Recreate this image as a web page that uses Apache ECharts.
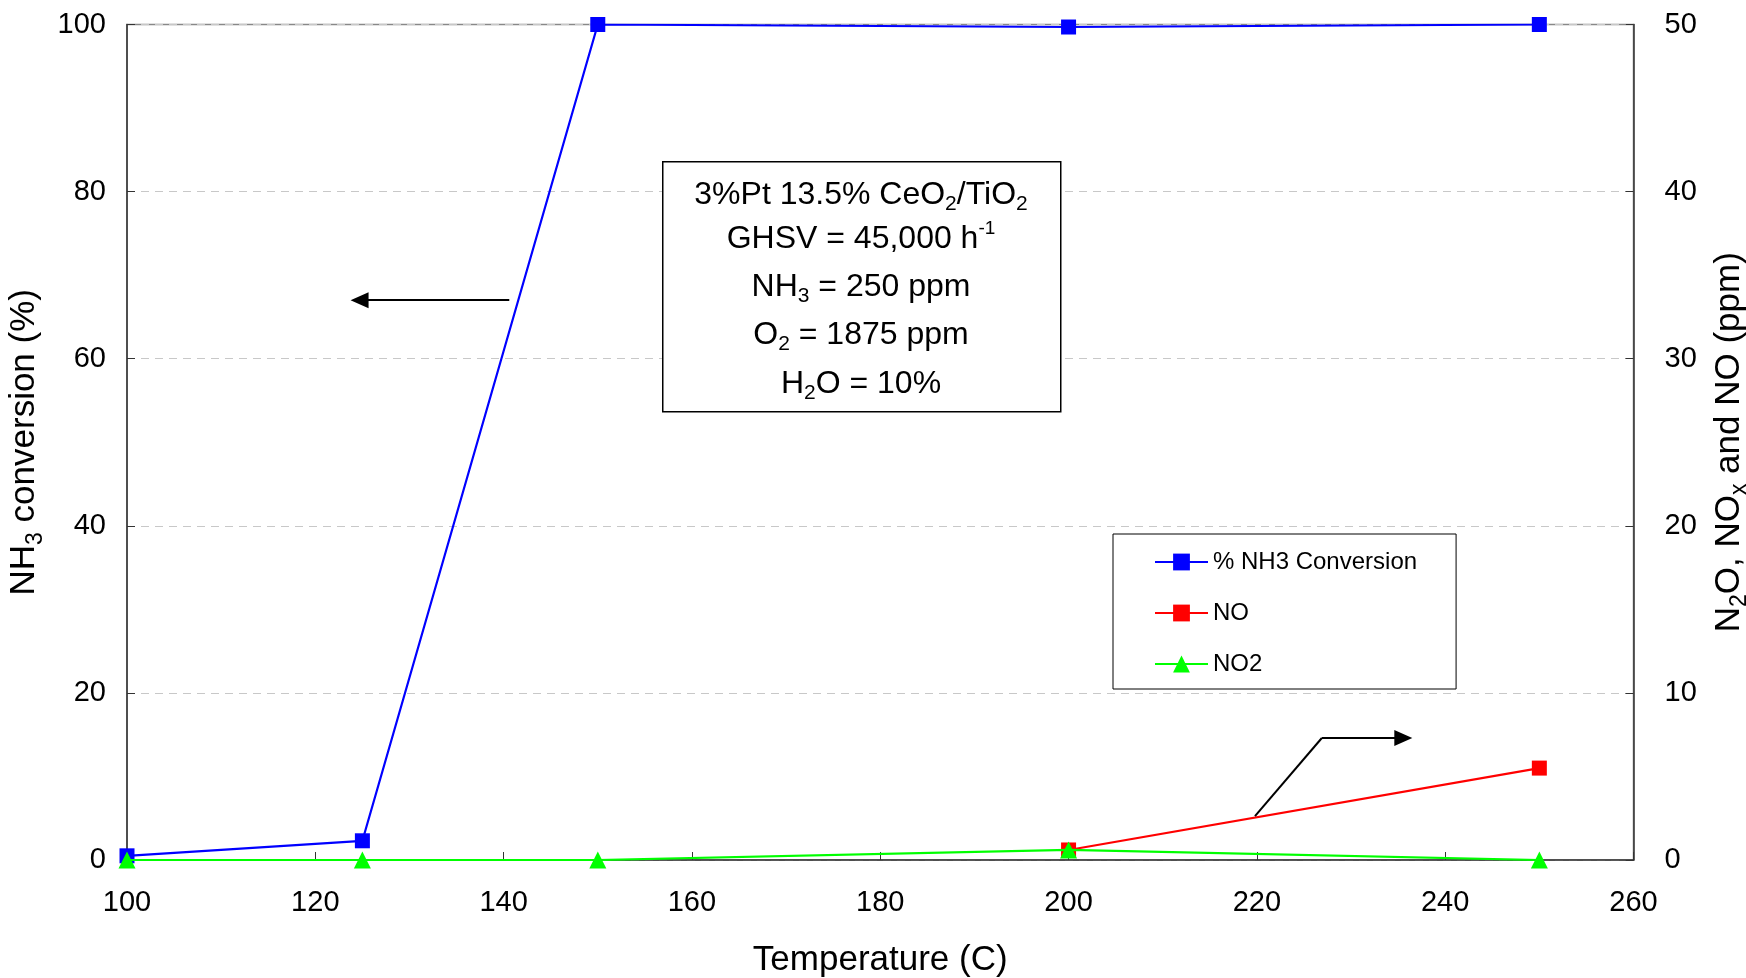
<!DOCTYPE html>
<html><head><meta charset="utf-8">
<script src="https://cdn.jsdelivr.net/npm/echarts@6/dist/echarts.min.js"></script>
<style>html,body{margin:0;padding:0;background:#fff}#c{width:1746px;height:978px}</style>
</head><body><div id="c"></div>
<script>
const temperature = [100, 125, 150, 200, 250];
const nh3Conversion = [0.5, 2.3, 100, 99.7, 100];
const noPpm = [null, null, null, 0.6, 5.5];
const no2Ppm = [0, 0, 0, 0.6, 0];
const xTicks = {min: 100, max: 260, interval: 20};
const leftTicks = {min: 0, max: 100, interval: 20};
const rightTicks = {min: 0, max: 50, interval: 10};
const seriesNames = ['% NH3 Conversion', 'NO', 'NO2'];
// annotation arrows in data coordinates
const leftArrow = [[140.6, 67], [124.7, 67]];
const rightArrow = [[219.8, 2.63], [226.9, 7.3], [235.55, 7.3]];
const boxLines = [
  '{n|3%Pt 13.5% CeO}{s|2}{n|/TiO}{s|2}',
  '{n|GHSV = 45,000 h}{p|-1}',
  '{n|NH}{s|3}{n| = 250 ppm}',
  '{n|O}{s|2}{n| = 1875 ppm}',
  '{n|H}{s|2}{n|O = 10%}'
];

const FF = "'Liberation Sans', Arial, sans-serif";
const pair = (a) => temperature.map((t, i) => [t, a[i]]);
const chart = echarts.init(document.getElementById('c'), null, {renderer: 'canvas'});

const lineY = [195, 239, 287, 335, 384];
const boxGraphics = [{
  type: 'rect', left: 662, top: 161, z: 100,
  shape: {width: 398, height: 250},
  style: {fill: '#fff', stroke: '#000', lineWidth: 1.5}
}];
boxLines.forEach((t, i) => {
  boxGraphics.push({
    type: 'text', z: 101, x: 861, y: lineY[i],
    style: {
      text: t, align: 'center', verticalAlign: 'middle',
      rich: {
        n: {fontFamily: FF, fontSize: 32, lineHeight: 40, fill: '#000'},
        s: {fontFamily: FF, fontSize: 21, lineHeight: 21, verticalAlign: 'bottom', fill: '#000'},
        p: {fontFamily: FF, fontSize: 19, lineHeight: 19, verticalAlign: 'top', fill: '#000'}
      }
    }
  });
});

const nameRich = {
  n: {fontFamily: FF, fontSize: 35, lineHeight: 44, color: '#000'},
  s: {fontFamily: FF, fontSize: 23, lineHeight: 22, verticalAlign: 'bottom', color: '#000'}
};

chart.setOption({
  animation: false,
  backgroundColor: '#fff',
  textStyle: {fontFamily: FF},
  grid: {left: 127, right: 112.5, top: 24.5, bottom: 118, outerBoundsMode: 'none', containLabel: false,
    show: true, borderColor: '#888', borderWidth: 1.5, backgroundColor: 'transparent'},
  legend: {
    data: seriesNames, orient: 'vertical', left: 1113, top: 534,
    padding: [16, 39, 13, 41], itemGap: 27, itemWidth: 53, itemHeight: 21,
    borderColor: '#000', borderWidth: 1, backgroundColor: '#fff',
    textStyle: {fontFamily: FF, fontSize: 24, lineHeight: 20, color: '#000'}
  },
  xAxis: {
    type: 'value', min: xTicks.min, max: xTicks.max, interval: xTicks.interval,
    name: 'Temperature (C)', nameLocation: 'middle', nameGap: 83,
    nameTextStyle: {fontFamily: FF, fontSize: 35, color: '#000'},
    axisLine: {onZero: false, lineStyle: {color: '#333', width: 1.5}},
    axisTick: {inside: true, length: 8, lineStyle: {color: '#333'}},
    axisLabel: {fontSize: 29, color: '#000', margin: 28, fontFamily: FF},
    splitLine: {show: false}
  },
  yAxis: [{
    type: 'value', min: leftTicks.min, max: leftTicks.max, interval: leftTicks.interval,
    name: '{n|NH}{s|3}{n| conversion (%)}', nameLocation: 'middle', nameGap: 74,
    nameTextStyle: {rich: nameRich},
    axisLine: {show: true, lineStyle: {color: '#333', width: 1.5}},
    axisTick: {show: true, inside: true, length: 8, lineStyle: {color: '#333'}},
    axisLabel: {fontSize: 29, color: '#000', margin: 21, fontFamily: FF},
    splitLine: {show: true, lineStyle: {color: '#c8c8c8', type: [8, 6], width: 1}}
  }, {
    type: 'value', min: rightTicks.min, max: rightTicks.max, interval: rightTicks.interval,
    position: 'right',
    name: '{n|N}{s|2}{n|O, NO}{s|x}{n| and NO (ppm)}', nameLocation: 'middle', nameGap: 74,
    nameRotate: 90,
    nameTextStyle: {rich: nameRich},
    axisLine: {show: true, lineStyle: {color: '#333', width: 1.5}},
    axisTick: {show: true, inside: true, length: 8, lineStyle: {color: '#333'}},
    axisLabel: {fontSize: 29, color: '#000', margin: 31, fontFamily: FF},
    splitLine: {show: false}
  }],
  series: [{
    name: seriesNames[0], type: 'line', yAxisIndex: 0, data: pair(nh3Conversion),
    symbol: 'rect', symbolSize: 15, color: '#0000ff',
    lineStyle: {color: '#0000ff', width: 2.2}, itemStyle: {color: '#0000ff'},
    z: 3,
    markLine: {
      silent: true, symbol: ['none', 'triangle'], symbolSize: [16, 18],
      label: {show: false}, emphasis: {disabled: true},
      lineStyle: {color: '#000', width: 2, type: 'solid'},
      data: [[{coord: leftArrow[0]}, {coord: leftArrow[1]}]]
    }
  }, {
    name: seriesNames[1], type: 'line', yAxisIndex: 1, data: pair(noPpm),
    symbol: 'rect', symbolSize: 15, color: '#ff0000',
    lineStyle: {color: '#ff0000', width: 2.2}, itemStyle: {color: '#ff0000'},
    z: 4,
    markLine: {
      silent: true, symbol: ['none', 'none'],
      label: {show: false}, emphasis: {disabled: true},
      lineStyle: {color: '#000', width: 2, type: 'solid'},
      data: [
        [{coord: rightArrow[0], symbol: 'none'}, {coord: rightArrow[1], symbol: 'none'}],
        [{coord: rightArrow[1], symbol: 'none'}, {coord: rightArrow[2], symbol: 'triangle', symbolSize: [16, 18]}]
      ]
    }
  }, {
    name: seriesNames[2], type: 'line', yAxisIndex: 1, data: pair(no2Ppm),
    symbol: 'triangle', symbolSize: 17, color: '#00ff00',
    lineStyle: {color: '#00ff00', width: 2.2}, itemStyle: {color: '#00ff00'},
    z: 5
  }],
  graphic: boxGraphics
});
</script></body></html>
